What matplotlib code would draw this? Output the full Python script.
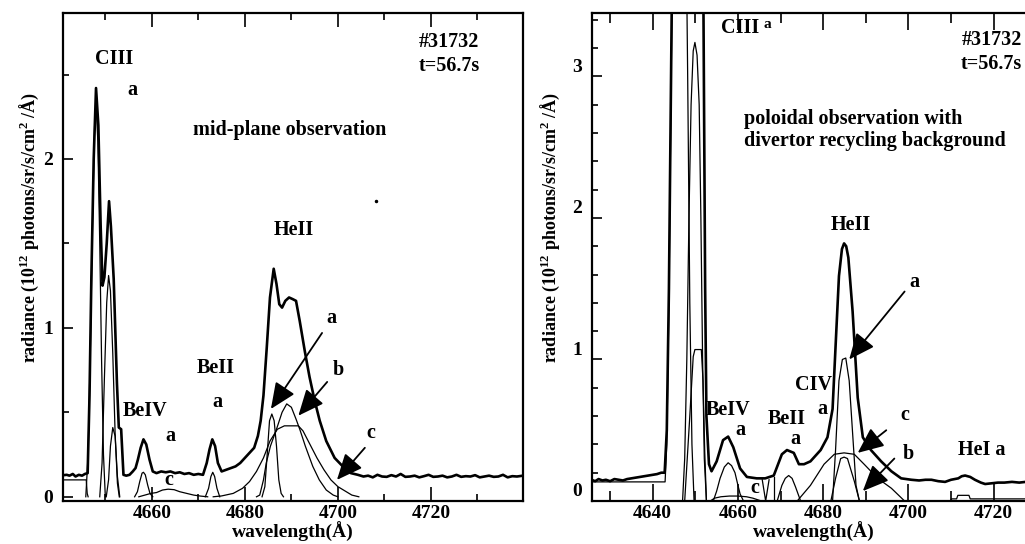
import matplotlib
matplotlib.use('Agg')
import matplotlib.pyplot as plt
from matplotlib.ticker import MultipleLocator
from matplotlib.transforms import ScaledTranslation

plt.rcParams['font.family'] = 'Liberation Serif'
plt.rcParams['font.weight'] = 'bold'
plt.rcParams['mathtext.fontset'] = 'custom'
plt.rcParams['mathtext.rm'] = 'Liberation Serif:bold'
plt.rcParams['mathtext.bf'] = 'Liberation Serif:bold'

# ---------------- mid-plane observation (left) ----------------
mid_wl = [4641.0, 4641.7, 4642.3, 4643.0, 4643.6, 4644.3, 4645.0, 4645.6, 4646.2, 4646.6, 4647.0,
          4647.5, 4648.0, 4648.5, 4649.0, 4649.4, 4649.8, 4650.3, 4650.8, 4651.2, 4651.8,
          4652.5, 4652.9, 4653.4, 4653.9, 4654.5, 4655.2, 4655.9, 4656.5, 4657.0, 4657.6,
          4658.2, 4658.8, 4659.5, 4660.2, 4661.0, 4662.0, 4663.0, 4664.0, 4665.0, 4666.0,
          4667.0, 4668.0, 4669.0, 4670.0, 4671.0, 4671.8, 4672.4, 4673.0, 4673.6, 4674.2,
          4675.0, 4676.0, 4677.0, 4678.0, 4679.0, 4680.0, 4681.0, 4682.0, 4682.8, 4683.4,
          4684.0, 4684.7, 4685.4, 4686.2, 4686.8, 4687.4, 4688.0, 4688.7, 4689.5, 4690.3,
          4691.0, 4691.8, 4692.9, 4693.9, 4695.0, 4696.1, 4697.5, 4699.3, 4701.4, 4702.8,
          4704.3, 4705.5, 4706.5, 4707.5, 4708.5, 4709.5, 4710.5, 4711.5, 4712.5, 4713.5,
          4714.5, 4715.5, 4716.5, 4717.5, 4718.5, 4719.5, 4720.5, 4721.5, 4722.5, 4723.5,
          4724.5, 4725.5, 4726.5, 4727.5, 4728.5, 4729.5, 4730.5, 4731.5, 4732.5, 4733.5,
          4734.5, 4735.5, 4736.5, 4737.5, 4738.5, 4739.8]
mid_total = [0.128, 0.13, 0.125, 0.135, 0.12, 0.13, 0.125, 0.135, 0.14, 0.6, 1.3,
             2.0, 2.42, 2.2, 1.6, 1.25, 1.3, 1.5, 1.75, 1.6, 1.29,
             0.67, 0.41, 0.40, 0.13, 0.125, 0.13, 0.15, 0.17, 0.22, 0.29,
             0.34, 0.31, 0.22, 0.15, 0.14, 0.15, 0.145, 0.15, 0.14, 0.145,
             0.135, 0.14, 0.13, 0.135, 0.13, 0.2, 0.28, 0.34, 0.3, 0.2,
             0.15, 0.16, 0.17, 0.18, 0.2, 0.23, 0.26, 0.29, 0.36, 0.45,
             0.6, 0.88, 1.18, 1.35, 1.26, 1.14, 1.12, 1.16, 1.18, 1.17,
             1.16, 1.04, 0.86, 0.71, 0.57, 0.45, 0.33, 0.23, 0.17, 0.14,
             0.13, 0.12, 0.125, 0.115, 0.13, 0.12, 0.118, 0.128, 0.12, 0.135,
             0.118, 0.12, 0.125, 0.115, 0.122, 0.13, 0.118, 0.12, 0.125, 0.115,
             0.12, 0.13, 0.118, 0.122, 0.12, 0.128, 0.115, 0.12, 0.125, 0.118,
             0.12, 0.13, 0.115, 0.122, 0.12, 0.125]

mid_bg_wl = [4640.9, 4645.9, 4646.1, 4646.3]
mid_bg = [0.10, 0.10, 0.02, 0.0]

mid_ciii1_wl = [4645.8, 4646.3, 4646.8, 4647.3, 4647.7, 4648.0, 4648.4, 4648.8, 4649.2, 4649.6, 4650.0]
mid_ciii1 = [0.0, 0.25, 0.9, 1.7, 2.2, 2.33, 2.1, 1.5, 0.8, 0.25, 0.0]
mid_ciii2_wl = [4648.8, 4649.3, 4649.8, 4650.3, 4650.7, 4651.1, 4651.6, 4652.1, 4652.6, 4653.0]
mid_ciii2 = [0.0, 0.2, 0.7, 1.15, 1.31, 1.22, 0.85, 0.38, 0.08, 0.0]
mid_ciii3_wl = [4650.2, 4650.7, 4651.1, 4651.6, 4652.1, 4652.6, 4653.1]
mid_ciii3 = [0.0, 0.1, 0.3, 0.41, 0.36, 0.12, 0.0]

mid_beiv_a_wl = [4656.3, 4656.9, 4657.4, 4657.9, 4658.2, 4658.6, 4659.1, 4659.6, 4660.2]
mid_beiv_a = [0.0, 0.03, 0.09, 0.14, 0.145, 0.13, 0.07, 0.02, 0.0]
mid_beiv_c_wl = [4657.2, 4658.5, 4659.8, 4661.0, 4662.3, 4663.5, 4664.8, 4666.0, 4667.5, 4669.0, 4670.5, 4672.0]
mid_beiv_c = [0.0, 0.01, 0.02, 0.025, 0.04, 0.045, 0.042, 0.03, 0.02, 0.01, 0.004, 0.0]
mid_beii_wl = [4671.5, 4672.2, 4672.7, 4673.1, 4673.5, 4674.0, 4674.6]
mid_beii = [0.0, 0.05, 0.12, 0.145, 0.12, 0.05, 0.0]

mid_heii_a_wl = [4683.7, 4684.3, 4684.8, 4685.3, 4685.8, 4686.3, 4686.8, 4687.3, 4687.8, 4688.3]
mid_heii_a = [0.0, 0.06, 0.25, 0.45, 0.49, 0.45, 0.3, 0.1, 0.02, 0.0]
mid_heii_b_wl = [4682.5, 4683.2, 4684.0, 4684.6, 4685.5, 4686.8, 4688.0, 4689.0, 4690.0, 4691.0,
                 4691.8, 4693.0, 4694.6, 4696.0, 4697.5, 4699.0, 4700.0]
mid_heii_b = [0.0, 0.01, 0.1, 0.2, 0.3, 0.4, 0.5, 0.55, 0.53, 0.46,
              0.4, 0.3, 0.18, 0.1, 0.04, 0.01, 0.0]
mid_heii_c_wl = [4673.2, 4675.0, 4677.5, 4679.5, 4681.0, 4682.5, 4684.0, 4685.4, 4687.0, 4688.5,
                 4690.0, 4691.5, 4692.5, 4694.0, 4695.5, 4697.0, 4698.5, 4700.0, 4701.8, 4703.0, 4704.5]
mid_heii_c = [0.0, 0.005, 0.02, 0.05, 0.09, 0.15, 0.23, 0.33, 0.40, 0.42,
              0.42, 0.42, 0.39, 0.31, 0.23, 0.16, 0.1, 0.06, 0.03, 0.01, 0.0]

mid_speck = [(4708.1, 1.75)]

# ---------------- poloidal observation (right) ----------------
pol_wl = [4625.6, 4626.5, 4627.3, 4628.2, 4629.0, 4630.0, 4631.0, 4632.0, 4633.0, 4634.0,
          4635.0, 4636.0, 4637.0, 4638.0, 4639.0, 4640.0, 4641.0, 4642.0, 4642.8, 4643.3,
          4643.8, 4644.3, 4644.8, 4645.5, 4647.0, 4649.0, 4651.0, 4651.8, 4652.3, 4652.6,
          4653.2, 4653.8, 4655.0, 4656.5, 4657.7, 4658.9, 4660.5, 4662.1, 4664.4, 4666.4,
          4668.4, 4670.3, 4671.5, 4673.1, 4674.3, 4675.5, 4677.0, 4679.4, 4681.0, 4682.2,
          4682.9, 4683.7, 4684.4, 4684.9, 4685.4, 4685.9, 4686.9, 4688.1, 4689.3, 4691.2,
          4693.6, 4696.0, 4698.3, 4700.7, 4702.5, 4704.0, 4705.4, 4707.0, 4708.6, 4710.0,
          4711.7, 4712.5, 4713.3, 4714.5, 4715.6, 4717.0, 4718.0, 4719.5, 4721.0, 4722.5,
          4724.3, 4726.0, 4727.5, 4729.7]
pol_total = [0.15, 0.14, 0.155, 0.145, 0.15, 0.14, 0.155, 0.15, 0.145, 0.155,
             0.16, 0.165, 0.17, 0.175, 0.18, 0.185, 0.19, 0.2, 0.2, 0.5,
             1.5, 3.0, 4.5, 6.0, 7.0, 6.5, 5.5, 4.0, 1.5, 0.6,
             0.26, 0.21, 0.28, 0.43, 0.455, 0.38, 0.23, 0.17, 0.16, 0.16,
             0.18, 0.33, 0.36, 0.34, 0.26, 0.26, 0.28, 0.36, 0.45, 0.65,
             1.09, 1.59, 1.78, 1.82, 1.8, 1.72, 1.34, 0.73, 0.45, 0.36,
             0.28, 0.21, 0.16, 0.15, 0.145, 0.15, 0.15, 0.14, 0.135, 0.15,
             0.16, 0.175, 0.18, 0.17, 0.15, 0.13, 0.12, 0.125, 0.13, 0.13,
             0.135, 0.13, 0.135, 0.13]

pol_ciii1_wl = [4625.6, 4642.9, 4643.3, 4643.8, 4644.3, 4644.8, 4645.5, 4646.5, 4647.5, 4648.2, 4648.7, 4649.2, 4649.7]
pol_ciii1 = [0.135, 0.135, 0.4, 1.4, 2.9, 4.3, 5.5, 6.0, 5.0, 3.0, 1.4, 0.4, 0.0]
pol_ciii2_wl = [4647.0, 4647.5, 4648.0, 4648.5, 4649.0, 4649.5, 4649.9, 4650.4, 4650.9, 4651.3, 4651.7, 4652.1, 4652.6]
pol_ciii2 = [0.0, 0.3, 1.0, 2.0, 2.8, 3.18, 3.24, 3.15, 2.8, 2.0, 1.0, 0.3, 0.0]
pol_ciii3_wl = [4647.5, 4648.7, 4649.5, 4649.9, 4651.4, 4651.8, 4652.2, 4652.6]
pol_ciii3 = [0.0, 0.6, 1.02, 1.07, 1.07, 0.85, 0.35, 0.0]

pol_beiv_a_wl = [4654.2, 4655.0, 4655.8, 4656.8, 4657.7, 4658.5, 4659.3, 4660.0, 4660.5, 4661.3]
pol_beiv_a = [0.0, 0.07, 0.16, 0.24, 0.27, 0.25, 0.2, 0.11, 0.05, 0.0]
pol_beiv_c_wl = [4653.5, 4654.5, 4656.0, 4658.0, 4660.0, 4662.0, 4663.5, 4664.5, 4665.5]
pol_beiv_c = [0.0, 0.02, 0.03, 0.035, 0.035, 0.03, 0.02, 0.01, 0.0]
# fit-window edges between BeIV and BeII
pol_edge_wl = [4665.7, 4666.5, 4667.3]
pol_edge = [0.15, 0.0, 0.15]
pol_edge2_wl = [4668.4, 4668.4]
pol_edge2 = [0.0, 0.17]
pol_beii_wl = [4669.2, 4670.3, 4671.1, 4671.9, 4672.7, 4673.5, 4674.7]
pol_beii = [0.0, 0.11, 0.16, 0.18, 0.16, 0.1, 0.0]

pol_heii_a_wl = [4682.2, 4682.9, 4683.7, 4684.5, 4685.3, 4686.1, 4686.9, 4687.7, 4688.5]
pol_heii_a = [0.0, 0.36, 0.85, 1.0, 1.01, 0.85, 0.48, 0.11, 0.0]
pol_heii_b_wl = [4681.8, 4682.9, 4684.1, 4684.9, 4685.7, 4687.3, 4688.5]
pol_heii_b = [0.0, 0.16, 0.3, 0.31, 0.3, 0.14, 0.0]
pol_heii_c_wl = [4673.9, 4677.0, 4680.2, 4682.6, 4684.9, 4687.3, 4689.6, 4692.8, 4696.0, 4699.1]
pol_heii_c = [0.0, 0.11, 0.26, 0.33, 0.34, 0.33, 0.26, 0.16, 0.09, 0.0]
pol_hei_wl = [4709.9, 4710.1, 4711.3, 4711.6, 4714.2, 4714.5, 4729.7]
pol_hei = [0.0, 0.015, 0.015, 0.04, 0.04, 0.015, 0.015]

# labels: (text, x, y)
mid_texts = [('CIII', 4651.8, 2.59), ('a', 4655.9, 2.41), ('#31732', 4723.9, 2.69),
             ('t=56.7s', 4723.9, 2.55), ('mid-plane observation', 4689.6, 2.17),
             ('HeII', 4690.5, 1.58), ('a', 4698.6, 1.06), ('b', 4700.0, 0.75),
             ('c', 4707.1, 0.38), ('BeII', 4673.8, 0.76), ('a', 4674.1, 0.56),
             ('BeIV', 4658.6, 0.505), ('a', 4663.9, 0.36), ('c', 4663.6, 0.10)]
pol_texts = [('CIII', 4660.5, 3.34),
             ('HeII', 4686.5, 1.95), ('a', 4701.5, 1.55), ('CIV', 4677.8, 0.82),
             ('a', 4679.8, 0.65), ('BeIV', 4657.7, 0.64), ('a', 4660.5, 0.5),
             ('BeII', 4671.5, 0.58), ('a', 4673.5, 0.44), ('c', 4699.1, 0.61),
             ('b', 4699.9, 0.33), ('HeI a', 4717.2, 0.36), ('c', 4664.0, 0.09)]
pol_corner = [('#31732', 3.26), ('t=56.7s', 3.09)]
pol_note = ['poloidal observation with', 'divertor recycling background']
pol_note_y = [2.70, 2.545]

# arrows: (tip x, tip y, tail x, tail y)
mid_arrows = [(4685.6, 0.52, 4696.6, 0.97), (4691.5, 0.48, 4697.7, 0.68), (4699.8, 0.10, 4705.8, 0.29)]
pol_arrows = [(4686.1, 1.0, 4699.1, 1.48), (4688.1, 0.34, 4694.8, 0.5), (4689.3, 0.07, 4696.7, 0.3)]

fig = plt.figure(figsize=(10.25, 5.44), dpi=100)
ax1 = fig.add_axes([63 / 1025, 43 / 544, 460 / 1025, 488.3 / 544])
ax2 = fig.add_axes([592 / 1025, 43 / 544, 443 / 1025, 488.3 / 544])

thick = dict(color='k', lw=1.9)
thin = dict(color='k', lw=0.9)

ax1.plot(mid_wl, mid_total, **thick)
ax1.plot(mid_bg_wl, mid_bg, **thin)
for wl, val in [(mid_ciii1_wl, mid_ciii1), (mid_ciii2_wl, mid_ciii2), (mid_ciii3_wl, mid_ciii3),
                (mid_beiv_a_wl, mid_beiv_a), (mid_beiv_c_wl, mid_beiv_c), (mid_beii_wl, mid_beii),
                (mid_heii_a_wl, mid_heii_a), (mid_heii_b_wl, mid_heii_b), (mid_heii_c_wl, mid_heii_c)]:
    ax1.plot(wl, val, **thin)
ax1.plot([p[0] for p in mid_speck], [p[1] for p in mid_speck], 'k.', ms=3)

ax2.plot(pol_wl, pol_total, **thick)
for wl, val in [(pol_ciii1_wl, pol_ciii1), (pol_ciii2_wl, pol_ciii2), (pol_ciii3_wl, pol_ciii3),
                (pol_beiv_a_wl, pol_beiv_a), (pol_beiv_c_wl, pol_beiv_c), (pol_beii_wl, pol_beii),
                (pol_edge_wl, pol_edge), (pol_edge2_wl, pol_edge2),
                (pol_heii_a_wl, pol_heii_a), (pol_heii_b_wl, pol_heii_b), (pol_heii_c_wl, pol_heii_c),
                (pol_hei_wl, pol_hei)]:
    ax2.plot(wl, val, **thin)

ax1.set_xlim(4640.9, 4739.8)
ax1.set_ylim(-0.025, 2.866)
ax2.set_xlim(4625.75, 4729.7)
ax2.set_ylim(0, 3.45)

for ax, texts, arrows in [(ax1, mid_texts, mid_arrows), (ax2, pol_texts, pol_arrows)]:
    for s, x, y in texts:
        ax.text(x, y, s, fontsize=14.5, fontweight='bold', ha='center', va='center')
    for tx, ty, sx, sy in arrows:
        ax.annotate('', xy=(tx, ty), xytext=(sx, sy),
                    arrowprops=dict(arrowstyle='-|>,head_length=0.8,head_width=0.35',
                                    color='k', lw=1.3, shrinkA=0, shrinkB=0, mutation_scale=20))
    ax.xaxis.set_major_locator(MultipleLocator(20))
    ax.xaxis.set_minor_locator(MultipleLocator(10))
    ax.tick_params(axis='both', which='both', direction='in', top=True, right=False,
                   labelsize=14, width=1.2)
    for sp in ax.spines.values():
        sp.set_linewidth(1.6)
    ax.set_xlabel('wavelength(Å)', fontsize=14, fontweight='bold', labelpad=0)
    ax.set_ylabel('radiance (10$^{12}$ photons/sr/s/cm$^{2}$ /Å)', fontsize=13, fontweight='bold')

ax2.text(4666.8, 3.37, 'a', fontsize=11, fontweight='bold', ha='center', va='center')
for s, y in pol_corner:
    ax2.text(4726.6, y, s, fontsize=14.5, fontweight='bold', ha='right', va='center')
for s, y in zip(pol_note, pol_note_y):
    ax2.text(4661.3, y, s, fontsize=14.5, fontweight='bold', ha='left', va='center')

ax1.yaxis.set_major_locator(MultipleLocator(1))
ax1.yaxis.set_minor_locator(MultipleLocator(0.5))
ax1.tick_params(axis='x', which='major', length=10, pad=3)
ax1.tick_params(axis='x', which='minor', length=5)
ax1.tick_params(axis='y', which='major', length=7, pad=7)
ax1.tick_params(axis='y', which='minor', length=4)
ax1.yaxis.set_label_coords(-0.047, 0.56)

ax2.yaxis.set_major_locator(MultipleLocator(1))
ax2.yaxis.set_minor_locator(MultipleLocator(0.2))
ax2.tick_params(axis='x', which='major', length=12, pad=3)
ax2.tick_params(axis='x', which='minor', length=7)
ax2.tick_params(axis='y', which='major', length=7, pad=7)
ax2.tick_params(axis='y', which='minor', length=4)
ax2.yaxis.set_label_coords(-0.068, 0.56)
shift = ScaledTranslation(0, 0.11, fig.dpi_scale_trans)
for lab in ax2.get_yticklabels():
    lab.set_transform(lab.get_transform() + shift)

fig.savefig('out.png', dpi=100)
